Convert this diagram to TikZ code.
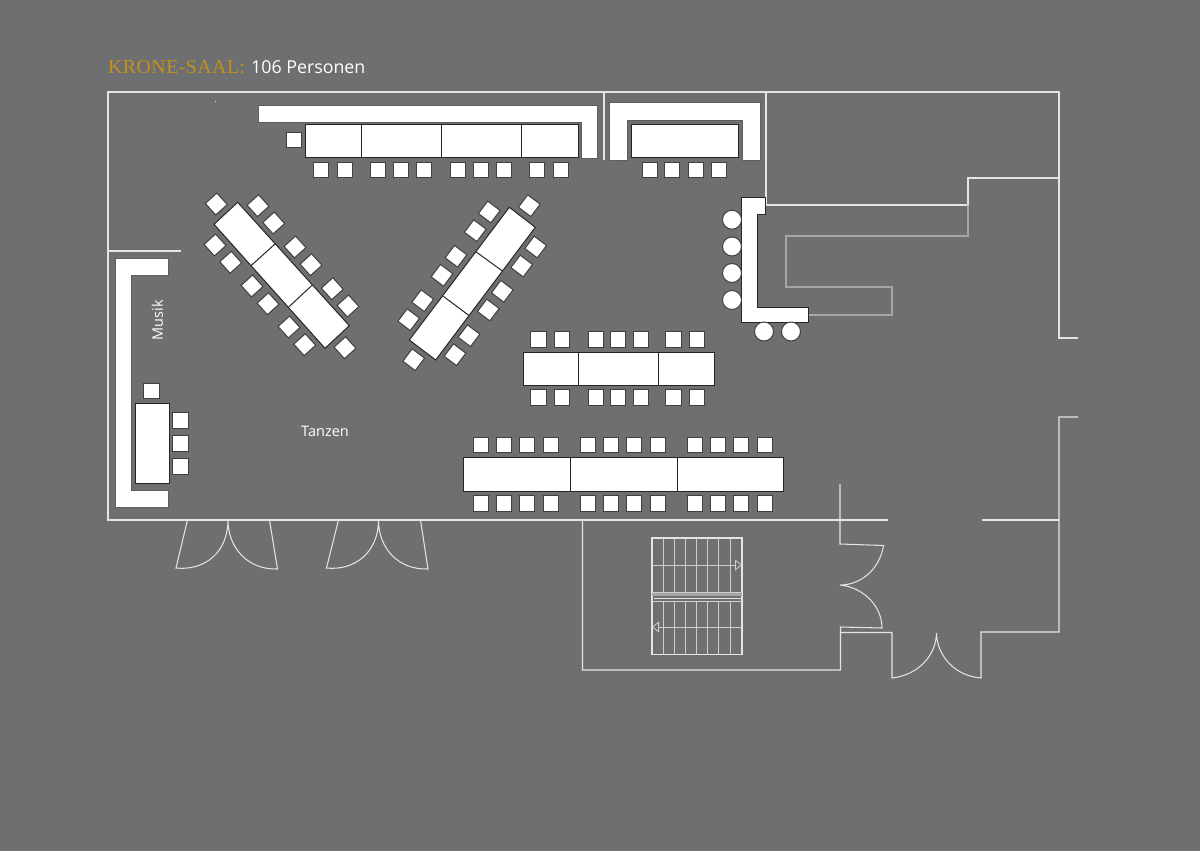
\documentclass[tikz,border=0pt]{standalone}
\usepackage{fontspec}
\setmainfont{Open Sans}
\newfontfamily\kronefont[LetterSpace=2.5]{Liberation Serif}
\usetikzlibrary{arrows.meta}
\definecolor{floorgrey}{HTML}{6E6F71}
\definecolor{krone}{HTML}{C4901A}
\definecolor{wallwhite}{HTML}{E4E4E4}
\definecolor{walldim}{HTML}{A6A6A8}
\tikzset{
	wall/.style={draw=wallwhite, line width=1.05pt},
	dimwall/.style={draw=walldim, line width=1.05pt},
	thinstep/.style={draw=wallwhite!80!floorgrey, line width=0.8pt},
	bench/.style={fill=white, draw=floorgrey!85!black, line width=0.4pt},
	tabletop/.style={fill=white, draw=black!85, line width=1pt},
	chair/.style={rectangle, fill=white, draw=black!75, line width=1pt, minimum size=15.5pt, inner sep=0pt},
	stool/.style={circle, fill=white, draw=black!75, line width=1pt, minimum size=19pt, inner sep=0pt},
	label/.style={text=white, font=\fontsize{14.5}{16}\selectfont}
}
\begin{document}
\begin{tikzpicture}[x=1pt, y=-1pt]
	\fill[floorgrey] (0,0) rectangle (1200,851);
	\useasboundingbox (0,0) rectangle (1200,851);

	\node[anchor=base west, inner sep=0pt, text=krone, font=\kronefont\fontsize{19.8}{22}\selectfont] (title) at (108,74) {KRONE-SAAL:};
	\node[anchor=base west, inner sep=0pt, text=white, font=\fontsize{17.8}{20}\selectfont] (guests) at (251,74) {106 Personen};

	% walls
	\draw[wall] (1078,338) -- (1059,338) -- (1059,92) -- (108,92) -- (108,520) -- (888,520);
	\draw[wall] (604,92) -- (604,160);
	\draw[wall] (108,251) -- (181,251);
	\draw[wall] (766,92) -- (766,205) -- (968,205);
	\draw[wall] (968,205) -- (968,178) -- (1059,178);
	\draw[dimwall] (968,205) -- (968,236) -- (786,236) -- (786,287) -- (892,287) -- (892,315) -- (808,315);
	\draw[wall] (1078,417) -- (1059,417) -- (1059,632) -- (981,632) -- (981,678)
		.. controls (955,676) and (937,656) .. (936.5,633)
		.. controls (936,656) and (918,675) .. (892,678) -- (892,632.5) -- (841,632.5);
	\draw[wall] (982,520) -- (1059,520);
	\draw[wall] (840,484) -- (840,544) -- (883.5,545.5)
		.. controls (880,568) and (862,585) .. (840,585)
		.. controls (862,587) and (882,605) .. (882,628) -- (840.5,627) -- (840.5,670) -- (582.5,670) -- (582.5,520);

	% doors
	\draw[wall] (187.5,520) -- (176,568) .. controls (205,571) and (228,552) .. (228,520)
		.. controls (228,548) and (248,570) .. (277.5,569) -- (269.5,520);
	\draw[wall] (338.5,520) -- (326.5,568) .. controls (355,571) and (378.5,552) .. (378.5,520)
		.. controls (378.5,548) and (398,570) .. (428,569) -- (420.5,520);

	% stairs
	\draw[wall] (652,538) rectangle (742,654.5);
	\foreach \x in {663, 674.5, 685.5, 696.5, 707.5, 718.5, 730} {
		\draw[thinstep] (\x,538) -- (\x,592);
		\draw[thinstep] (\x,601) -- (\x,654.5);
	}
	\fill[walldim] (652,592) rectangle (742,596);
	\draw[wall] (654,598.5) -- (742,598.5);
	\draw[thinstep] (652,592) -- (742,592);
	\draw[thinstep] (652,601) -- (742,601);
	\coordinate (upfrom) at (652,565);
	\coordinate (upto) at (742,565);
	\coordinate (downfrom) at (742,627);
	\coordinate (downto) at (652,627);
	\draw[thinstep, -{Triangle[open, length=7pt, width=11pt]}] (upfrom) -- (upto);
	\draw[thinstep, -{Triangle[open, length=7pt, width=11pt]}] (downfrom) -- (downto);
	\fill[wallwhite] (215,101) rectangle (216,102);

	% benches
	\draw[bench] (258,105) -- (597,105) -- (597,158) -- (581,158) -- (581,122) -- (258,122) -- cycle;
	\draw[bench] (609,160) -- (609,102) -- (760,102) -- (760,160) -- (742,160) -- (742,120) -- (627,120) -- (627,160) -- cycle;
	\draw[bench] (115,258) -- (168,258) -- (168,275) -- (131,275) -- (131,490) -- (168,490) -- (168,507) -- (115,507) -- cycle;
	\draw[tabletop, line width=0.7pt] (741,197) -- (765,197) -- (765,214) -- (757,214) -- (757,307) -- (808,307) -- (808,322) -- (741,322) -- cycle;

	% head table
	\draw[tabletop] (305,124) rectangle (578,157);
	\draw[tabletop] (361.5,124) -- (361.5,157);
	\draw[tabletop] (441.5,124) -- (441.5,157);
	\draw[tabletop] (521.5,124) -- (521.5,157);
	\node[chair] (headend) at (294,140) {};
	\foreach \x [count=\i] in {321, 345, 378, 401, 424, 458, 481, 504, 537, 561} {
		\node[chair] (head\i) at (\x,170) {};
	}

	% side table
	\draw[tabletop] (631,124) rectangle (738,157);
	\foreach \x [count=\i] in {650, 672, 696, 719} {
		\node[chair] (side\i) at (\x,170) {};
	}

	% slanted table left
	\draw[tabletop] (237.7,202.3) -- (349.3,325.7) -- (325,348.3) -- (214,224.3) -- cycle;
	\draw[tabletop] (275,244) -- (251,265.7);
	\draw[tabletop] (312,285.3) -- (288.7,307);
	\foreach \x/\y [count=\i] in {216.3/204, 258/205.7, 273.7/223, 295/247, 311/264.7, 332.3/288.7, 348/306,
		345/347.7, 304.7/344.7, 289/327, 268/303.7, 252/286, 230.7/262.3, 215/245} {
		\node[chair, rotate=-48] (slantl\i) at (\x,\y) {};
	}

	% slanted table right
	\draw[tabletop] (509.3,207.3) -- (535.3,227.3) -- (435.7,360) -- (409.3,340) -- cycle;
	\draw[tabletop] (476.3,252) -- (502,270.7);
	\draw[tabletop] (443.3,296.3) -- (468.7,315.3);
	\foreach \x/\y [count=\i] in {529.3/205.7, 489.3/212, 475.3/230.7, 456/256.3, 442/275.3, 422.7/300.7, 408.7/319.7,
		413.7/359.7, 455/354.7, 469/335.7, 488.3/310, 502.3/291.3, 521.7/266, 535.7/247} {
		\node[chair, rotate=53] (slantr\i) at (\x,\y) {};
	}

	% middle table
	\draw[tabletop] (523,352) rectangle (714,385);
	\draw[tabletop] (578.5,352) -- (578.5,385);
	\draw[tabletop] (658,352) -- (658,385);
	\foreach \x [count=\i] in {538.5, 562, 596, 618, 641, 673.5, 697} {
		\node[chair] (midtop\i) at (\x,339.5) {};
		\node[chair] (midlow\i) at (\x,397.5) {};
	}

	% long table
	\draw[tabletop] (463,457) rectangle (783,491);
	\draw[tabletop] (570,457) -- (570,491);
	\draw[tabletop] (677,457) -- (677,491);
	\foreach \x [count=\i] in {481, 504, 527, 551, 588, 611, 634, 658, 695, 718, 741, 765} {
		\node[chair] (longtop\i) at (\x,445) {};
		\node[chair] (longlow\i) at (\x,503.5) {};
	}

	% music corner
	\draw[tabletop] (135.5,403) rectangle (169,483.5);
	\node[chair] (djtop) at (151.5,391) {};
	\foreach \y [count=\i] in {420.5, 443.5, 466.5} {
		\node[chair] (dj\i) at (180.5,\y) {};
	}

	% bar stools
	\foreach \y [count=\i] in {219.7, 246.5, 273, 300} {
		\node[stool] (stool\i) at (732,\y) {};
	}
	\node[stool] (stoolb) at (764,331.5) {};
	\node[stool] (stoolc) at (791,331.5) {};

	\node[label, rotate=90] (musik) at (157.5,320) {Musik};
	\node[label] (tanzen) at (325,431) {Tanzen};
\end{tikzpicture}
\end{document}
